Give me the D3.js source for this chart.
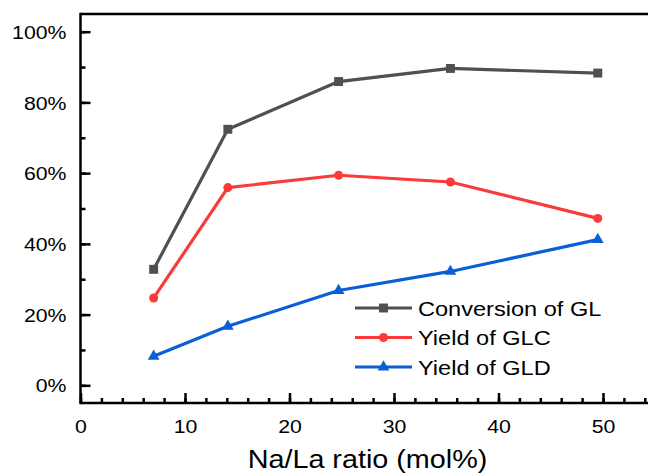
<!DOCTYPE html>
<html>
<head>
<meta charset="utf-8">
<script src="https://cdn.jsdelivr.net/npm/d3@7"></script>
<style>
  body { margin: 0; background: #fff; }
  svg text { font-family: "Liberation Sans", Arial, sans-serif; fill: #000; }
</style>
</head>
<body>
<svg id="chart" width="648" height="474"></svg>
<script>
// Na/La ratio (mol%) and the measured percentages for each series
const ratios = [7, 14.1, 24.7, 35.4, 49.5];
const conversionGL = [32.8, 72.4, 85.9, 89.6, 88.3];
const yieldGLC = [24.7, 55.9, 59.4, 57.5, 47.2];
const yieldGLD = [8.2, 16.7, 26.8, 32.2, 41.2];
const seriesNames = ["Conversion of GL", "Yield of GLC", "Yield of GLD"];
const xMajorTicks = [0, 10, 20, 30, 40, 50];
const xMinorTicks = d3.range(0, 55, 2);
const yMajorTicks = [0, 20, 40, 60, 80, 100];
const yMinorTicks = d3.range(0, 101, 10);
const xTitle = "Na/La ratio (mol%)";

const series = [
  { name: seriesNames[0], values: conversionGL, color: "#505050", symbol: d3.symbolSquare, size: 80 },
  { name: seriesNames[1], values: yieldGLC, color: "#fb3a3a", symbol: d3.symbolCircle, size: 64 },
  { name: seriesNames[2], values: yieldGLD, color: "#0a5fd6", symbol: d3.symbolTriangle, size: 60 }
];

const svg = d3.select("#chart");
const plotLeft = 80.5, plotTop = 14, plotBottom = 403;
const stretch = 1.15; // text is drawn slightly wide

const x = d3.scaleLinear().domain([0, 55]).range([plotLeft, plotLeft + 55 * 10.45]);
const y = d3.scaleLinear().domain([-5, 105]).range([plotBottom, plotTop]);

// frame: top edge
svg.append("line")
  .attr("x1", plotLeft).attr("x2", 660).attr("y1", plotTop).attr("y2", plotTop)
  .attr("stroke", "#000").attr("stroke-width", 2.5);

// minor ticks (inward)
svg.append("g").attr("transform", `translate(0,${plotBottom})`)
  .call(d3.axisBottom(x).tickValues(xMinorTicks).tickSize(-5).tickFormat(""))
  .call(g => g.select(".domain").remove())
  .selectAll("line").attr("stroke-width", 2.5);
svg.append("g").attr("transform", `translate(${plotLeft},0)`)
  .call(d3.axisLeft(y).tickValues(yMinorTicks).tickSize(-5).tickFormat(""))
  .call(g => g.select(".domain").remove())
  .selectAll("line").attr("stroke-width", 2.5);

// major ticks + labels
const xAxis = svg.append("g").attr("transform", `translate(0,${plotBottom})`)
  .call(d3.axisBottom(x).tickValues(xMajorTicks).tickSize(-10).tickSizeOuter(0).tickFormat(d3.format("d")));
xAxis.select(".domain").remove();
xAxis.selectAll("line").attr("stroke-width", 2.5);
xAxis.selectAll("text")
  .attr("x", null).attr("y", null).attr("dy", null)
  .attr("text-anchor", "middle")
  .attr("font-size", 18.5)
  .attr("transform", `translate(0,30) scale(${stretch},1)`);

const yAxis = svg.append("g").attr("transform", `translate(${plotLeft},0)`)
  .call(d3.axisLeft(y).tickValues(yMajorTicks).tickSize(-10).tickSizeOuter(0).tickFormat(d => d + "%"));
yAxis.select(".domain").remove();
yAxis.selectAll("line").attr("stroke-width", 2.5);
yAxis.selectAll("text")
  .attr("x", null).attr("y", null).attr("dy", null)
  .attr("text-anchor", "end")
  .attr("font-size", 18.5)
  .attr("transform", `translate(-14,6.6) scale(${stretch},1)`);

// axis lines
svg.append("line")
  .attr("x1", plotLeft).attr("x2", 660).attr("y1", plotBottom).attr("y2", plotBottom)
  .attr("stroke", "#000").attr("stroke-width", 2.5);
svg.append("line")
  .attr("x1", plotLeft).attr("x2", plotLeft).attr("y1", plotTop - 1.25).attr("y2", plotBottom + 1.25)
  .attr("stroke", "#000").attr("stroke-width", 2.5);

// axis title
svg.append("text")
  .attr("text-anchor", "middle")
  .attr("font-size", 25)
  .attr("transform", `translate(367.5,468) scale(${stretch},1)`)
  .text(xTitle);

// series lines and markers
const line = d3.line().x((d, i) => x(ratios[i])).y(d => y(d));
series.forEach(s => {
  svg.append("path")
    .attr("d", line(s.values))
    .attr("fill", "none")
    .attr("stroke", s.color)
    .attr("stroke-width", 3.2)
    .attr("stroke-linejoin", "round");
  svg.append("g").selectAll("path")
    .data(s.values)
    .join("path")
    .attr("transform", (d, i) => `translate(${x(ratios[i])},${y(d)})`)
    .attr("d", d3.symbol().type(s.symbol).size(s.size))
    .attr("fill", s.color);
});

// legend
const legend = svg.append("g");
series.forEach((s, i) => {
  const cy = 308 + i * 29.5;
  legend.append("line")
    .attr("x1", 355).attr("x2", 412).attr("y1", cy).attr("y2", cy)
    .attr("stroke", s.color).attr("stroke-width", 3.2);
  legend.append("path")
    .attr("transform", `translate(383.5,${cy})`)
    .attr("d", d3.symbol().type(s.symbol).size(s.size))
    .attr("fill", s.color);
  legend.append("text")
    .attr("font-size", 20.5)
    .attr("transform", `translate(418,${cy + 7.5}) scale(${stretch},1)`)
    .text(s.name);
});
</script>
</body>
</html>
